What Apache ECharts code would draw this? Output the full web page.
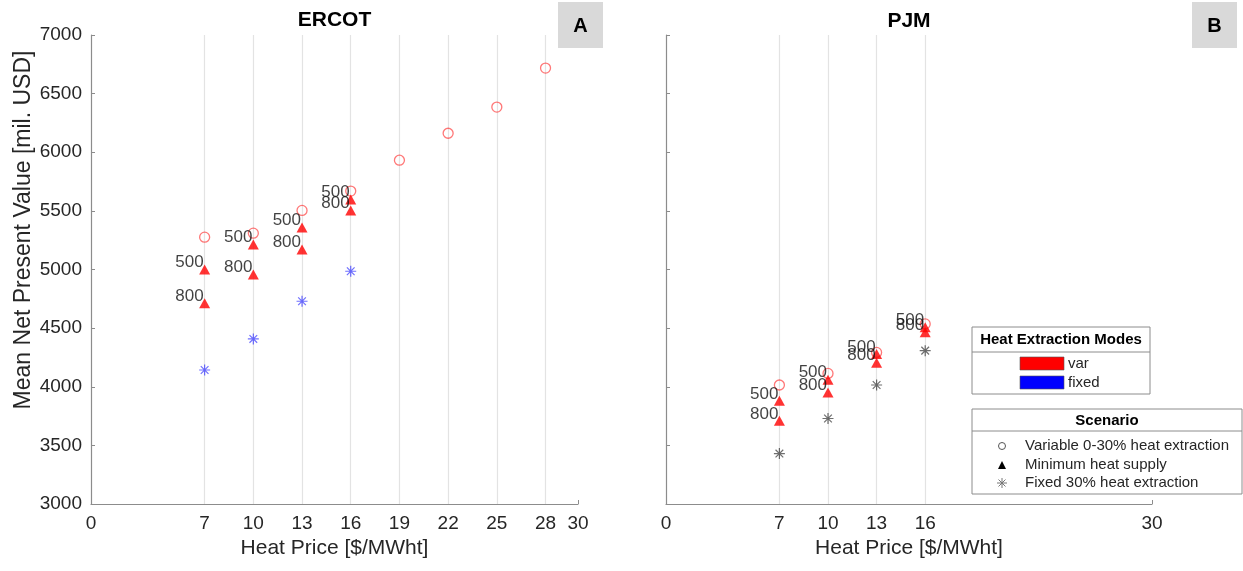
<!DOCTYPE html>
<html>
<head>
<meta charset="utf-8">
<script src="https://cdn.jsdelivr.net/npm/echarts@6/dist/echarts.min.js"></script>
<style>
  html, body { margin: 0; padding: 0; background: #fff; }
  #chart { width: 1243px; height: 571px; }
</style>
</head>
<body>
<div id="chart"></div>
<script>
// ERCOT panel
var ercotPrice = [7, 10, 13, 16, 19, 22, 25, 28];
var ercotVar = [5276, 5310, 5504, 5669, 5932, 6162, 6385, 6718];
var ercotPriceMin = [7, 10, 13, 16];
var ercotMin500 = [5000, 5214, 5359, 5598];
var ercotMin800 = [4712, 4957, 5171, 5504];
var ercotFixed = [4143, 4408, 4729, 4985];

// PJM panel
var pjmPrice = [7, 10, 13, 16];
var pjmVar = [4015, 4114, 4293, 4536];
var pjmMin500 = [3880, 4060, 4279, 4507];
var pjmMin800 = [3709, 3951, 4205, 4464];
var pjmFixed = [3430, 3729, 4015, 4308];

// ticks
var ercotTicks = [0, 7, 10, 13, 16, 19, 22, 25, 28, 30];
var pjmTicks = [0, 7, 10, 13, 16, 30];
var ercotGrid = [7, 10, 13, 16, 19, 22, 25, 28];
var pjmGrid = [7, 10, 13, 16];

var FONT = "'Liberation Sans', Arial, Helvetica, sans-serif";
var AXIS_COLOR = '#8c8c8c';
var TEXT_COLOR = '#262626';
var STAR = 'path://M5,0L5,10M0,5L10,5M1.5,1.5L8.5,8.5M1.5,8.5L8.5,1.5';

function pairs(xs, ys) {
    var out = [], i;
    for (i = 0; i < ys.length; i++) {
        out.push([xs[i], ys[i]]);
    }
    return out;
}

function xAxisOf(idx, ticks) {
    return {
        gridIndex: idx,
        type: 'value',
        min: 0,
        max: 30,
        name: 'Heat Price [$/MWht]',
        nameLocation: 'middle',
        nameGap: 34,
        nameTextStyle: { color: TEXT_COLOR, fontSize: 21, fontFamily: FONT },
        axisLine: { show: true, lineStyle: { color: AXIS_COLOR, width: 1.2 } },
        axisTick: { show: true, inside: true, length: 4, customValues: ticks, lineStyle: { color: AXIS_COLOR } },
        axisLabel: { customValues: ticks, color: TEXT_COLOR, fontSize: 19, fontFamily: FONT, margin: 10 },
        splitLine: { show: false }
    };
}

function yAxisOf(idx, withLabels) {
    return {
        gridIndex: idx,
        type: 'value',
        min: 3000,
        max: 7000,
        interval: 500,
        axisLine: { show: true, lineStyle: { color: AXIS_COLOR, width: 1.2 } },
        axisTick: { show: true, inside: true, length: 4, lineStyle: { color: AXIS_COLOR } },
        axisLabel: {
            show: withLabels,
            color: TEXT_COLOR,
            fontSize: 19,
            fontFamily: FONT,
            margin: 9,
            formatter: function(v) { return String(v); }
        },
        splitLine: { show: false }
    };
}

function gridLines(idx, vals) {
    return {
        type: 'scatter',
        xAxisIndex: idx,
        yAxisIndex: idx,
        data: [],
        silent: true,
        z: 1,
        markLine: {
            silent: true,
            z: 1,
            symbol: 'none',
            label: { show: false },
            lineStyle: { color: '#e3e3e3', type: 'solid', width: 1.2 },
            data: vals.map(function(v) { return { xAxis: v }; })
        }
    };
}

function circles(idx, xs, ys) {
    return {
        type: 'scatter', xAxisIndex: idx, yAxisIndex: idx, z: 3,
        symbol: 'circle', symbolSize: 10,
        itemStyle: { color: 'rgba(255,255,255,0)', borderColor: 'rgba(255,30,30,0.75)', borderWidth: 1.3 },
        data: pairs(xs, ys)
    };
}

function triangles(idx, xs, ys, tag) {
    return {
        type: 'scatter', xAxisIndex: idx, yAxisIndex: idx, z: 4,
        symbol: 'triangle', symbolSize: [11, 10],
        itemStyle: { color: '#ff0000' },
        label: {
            show: true,
            formatter: tag,
            position: [4.5, 6.5],
            align: 'right',
            verticalAlign: 'bottom',
            color: '#111',
            fontSize: 17,
            fontFamily: FONT
        },
        data: pairs(xs, ys)
    };
}

function stars(idx, xs, ys, color) {
    return {
        type: 'scatter', xAxisIndex: idx, yAxisIndex: idx, z: 3,
        symbol: STAR, symbolSize: 11,
        itemStyle: { color: 'none', borderColor: color, borderWidth: 1.2 },
        data: pairs(xs, ys)
    };
}

function panelTag(x, letter) {
    return {
        type: 'group',
        children: [
            { type: 'rect', shape: { x: x, y: 2, width: 45, height: 46 }, style: { fill: '#d9d9d9' } },
            { type: 'text', x: x + 22.5, y: 26, style: { text: letter, fill: '#000', font: 'bold 20px ' + FONT, align: 'center', verticalAlign: 'middle' } }
        ]
    };
}

function legendLine(x1, y1, x2, y2, color) {
    return { type: 'line', z: 11, shape: { x1: x1, y1: y1, x2: x2, y2: y2 }, style: { stroke: color, lineWidth: 1 } };
}

var legendBorder = { fill: '#fff', stroke: '#8c8c8c', lineWidth: 1 };

var graphics = [
    { type: 'text', x: 334.5, y: 20, style: { text: 'ERCOT', fill: '#000', font: 'bold 21px ' + FONT, align: 'center', verticalAlign: 'middle' } },
    { type: 'text', x: 909, y: 21, style: { text: 'PJM', fill: '#000', font: 'bold 21px ' + FONT, align: 'center', verticalAlign: 'middle' } },
    // y axis title
    { type: 'text', x: 24, y: 230, rotation: Math.PI / 2, style: { text: 'Mean Net Present Value [mil. USD]', fill: TEXT_COLOR, font: '23px ' + FONT, align: 'center', verticalAlign: 'middle' } },
    panelTag(558, 'A'),
    panelTag(1192, 'B'),
    // Heat Extraction Modes legend
    { type: 'rect', z: 10, shape: { x: 972, y: 327, width: 178, height: 67 }, style: legendBorder },
    legendLine(972, 352, 1150, 352, '#8c8c8c'),
    { type: 'text', z: 11, x: 1061, y: 340, style: { text: 'Heat Extraction Modes', fill: '#000', font: 'bold 15px ' + FONT, align: 'center', verticalAlign: 'middle' } },
    { type: 'rect', z: 11, shape: { x: 1020, y: 357, width: 44, height: 13 }, style: { fill: '#ff0000', stroke: '#555', lineWidth: 0.6 } },
    { type: 'text', z: 11, x: 1068, y: 364, style: { text: 'var', fill: TEXT_COLOR, font: '15px ' + FONT, verticalAlign: 'middle' } },
    { type: 'rect', z: 11, shape: { x: 1020, y: 376, width: 44, height: 13 }, style: { fill: '#0000ff', stroke: '#555', lineWidth: 0.6 } },
    { type: 'text', z: 11, x: 1068, y: 383, style: { text: 'fixed', fill: TEXT_COLOR, font: '15px ' + FONT, verticalAlign: 'middle' } },
    // Scenario legend
    { type: 'rect', z: 10, shape: { x: 972, y: 409, width: 270, height: 85 }, style: legendBorder },
    legendLine(972, 431, 1242, 431, '#8c8c8c'),
    { type: 'text', z: 11, x: 1107, y: 421, style: { text: 'Scenario', fill: '#000', font: 'bold 15px ' + FONT, align: 'center', verticalAlign: 'middle' } },
    { type: 'circle', z: 11, shape: { cx: 1002, cy: 446, r: 3.5 }, style: { fill: 'none', stroke: '#555', lineWidth: 1 } },
    { type: 'text', z: 11, x: 1025, y: 446, style: { text: 'Variable 0-30% heat extraction', fill: TEXT_COLOR, font: '15px ' + FONT, verticalAlign: 'middle' } },
    { type: 'polygon', z: 11, shape: { points: [[1002, 461], [1006, 469], [998, 469]] }, style: { fill: '#000' } },
    { type: 'text', z: 11, x: 1025, y: 465, style: { text: 'Minimum heat supply', fill: TEXT_COLOR, font: '15px ' + FONT, verticalAlign: 'middle' } },
    legendLine(1002, 478, 1002, 488, '#777'),
    legendLine(997, 483, 1007, 483, '#777'),
    legendLine(998.5, 479.5, 1005.5, 486.5, '#777'),
    legendLine(998.5, 486.5, 1005.5, 479.5, '#777'),
    { type: 'text', z: 11, x: 1025, y: 483, style: { text: 'Fixed 30% heat extraction', fill: TEXT_COLOR, font: '15px ' + FONT, verticalAlign: 'middle' } }
];

var chart = echarts.init(document.getElementById('chart'));
chart.setOption({
    animation: false,
    backgroundColor: '#fff',
    grid: [
        { left: 91, top: 35, width: 487, height: 469 },
        { left: 666, top: 35, width: 486, height: 469 }
    ],
    xAxis: [xAxisOf(0, ercotTicks), xAxisOf(1, pjmTicks)],
    yAxis: [yAxisOf(0, true), yAxisOf(1, false)],
    series: [
        gridLines(0, ercotGrid),
        gridLines(1, pjmGrid),
        circles(0, ercotPrice, ercotVar),
        triangles(0, ercotPriceMin, ercotMin500, '500'),
        triangles(0, ercotPriceMin, ercotMin800, '800'),
        stars(0, ercotPriceMin, ercotFixed, 'rgba(30,30,255,0.8)'),
        circles(1, pjmPrice, pjmVar),
        triangles(1, pjmPrice, pjmMin500, '500'),
        triangles(1, pjmPrice, pjmMin800, '800'),
        stars(1, pjmPrice, pjmFixed, 'rgba(30,30,30,0.8)')
    ],
    graphic: graphics
});
</script>
</body>
</html>
